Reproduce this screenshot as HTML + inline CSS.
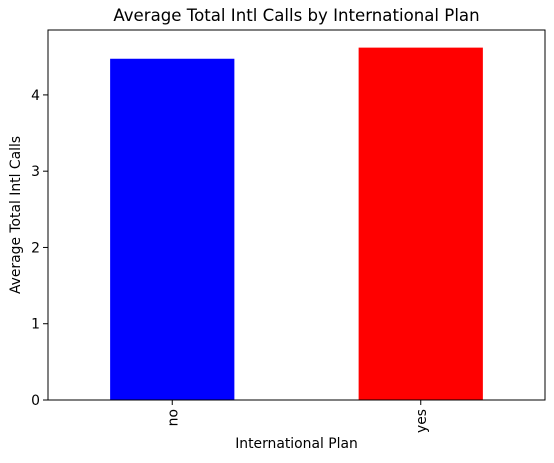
<!DOCTYPE html>
<html><head><meta charset="utf-8"><style>
html,body{margin:0;padding:0;background:#fff;}
svg{display:block;font-family:"DejaVu Sans","Liberation Sans",sans-serif;}
</style></head><body>
<svg id="chart" width="554" height="463" viewBox="0 0 554 463"></svg>
<script>
const categories = ["no", "yes"];
const values = [4.474, 4.62];
const colors = ["#0000ff", "#ff0000"];
const yTicks = [0, 1, 2, 3, 4];

const svg = document.getElementById('chart');
const NS = 'http://www.w3.org/2000/svg';
const L = 48, R = 545, B = 400;
const yMax = Math.max(...values) * 1.05;
const T = 30;
const y = v => B - v / yMax * (B - T);
const step = (R - L) / categories.length;
const x = i => L + step * (i + 0.5);

function mk(tag, attrs, text) {
  const e = document.createElementNS(NS, tag);
  for (const k in attrs) e.setAttribute(k, attrs[k]);
  if (text !== undefined) e.textContent = text;
  svg.appendChild(e);
  return e;
}

categories.forEach((c, i) => {
  const bw = step * 0.5;
  const r = mk('rect', {x: x(i) - bw / 2, y: y(values[i]), width: bw, height: B - y(values[i]), fill: colors[i]});
  
  
  const t = mk('line', {x1: x(i), x2: x(i), y1: B, y2: B + 5, stroke: '#000', 'stroke-width': 1});
  
  
  const lb = mk('text', {transform: `translate(${x(i) + 5},${B + 9}) rotate(-90)`, 'text-anchor': 'end', 'font-size': 13.9, fill: '#000'}, c);
  
  
});

yTicks.forEach(v => {
  const t = mk('line', {x1: L - 5, x2: L, y1: y(v), y2: y(v), stroke: '#000', 'stroke-width': 1});
  
  
  const lb = mk('text', {x: L - 8, y: y(v) + 5, 'text-anchor': 'end', 'font-size': 13.9, fill: '#000'}, String(v));
  
  
});

const frame = mk('rect', {x: L, y: T, width: R - L, height: B - T, fill: 'none', stroke: '#000', 'stroke-width': 1});



const title = mk('text', {x: (L + R) / 2, y: 21, 'text-anchor': 'middle', 'font-size': 16.6, fill: '#000'}, 'Average Total Intl Calls by International Plan');



const xt = mk('text', {x: (L + R) / 2, y: 448, 'text-anchor': 'middle', 'font-size': 13.9, fill: '#000'}, 'International Plan');



const yt = mk('text', {transform: `translate(20,${(T + B) / 2}) rotate(-90)`, 'text-anchor': 'middle', 'font-size': 13.9, fill: '#000'}, 'Average Total Intl Calls');


</script>
</body></html>
